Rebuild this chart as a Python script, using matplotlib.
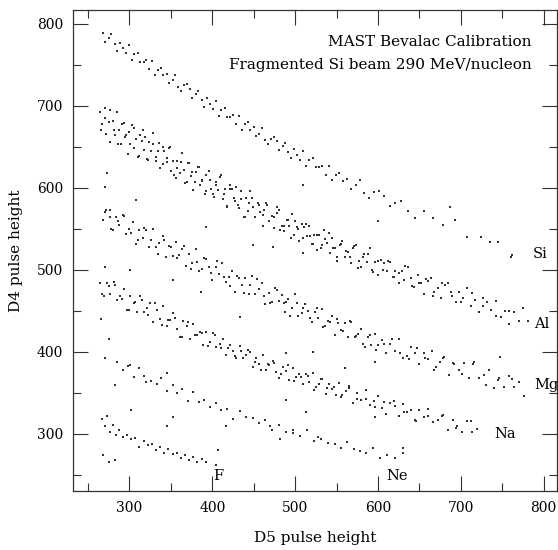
import matplotlib.pyplot as plt
from matplotlib.ticker import MultipleLocator

si_x = [268, 271, 275, 278, 282, 285, 289, 292, 296, 299, 303, 306, 310, 313, 317, 320, 324, 327,
        331, 334, 338, 341, 345, 348, 352, 355, 359, 362, 366, 369, 373, 376, 380, 383, 387, 390,
        394, 397, 401, 404, 408, 411, 415, 418, 422, 425, 429, 432, 436, 439, 443, 446, 450, 453,
        457, 460, 464, 467, 471, 474, 478, 481, 485, 488, 492, 495, 499, 502, 506, 509, 513, 517,
        521, 525, 529, 533, 537, 541, 545, 549, 553, 558, 563, 568, 573, 578, 583, 589, 595, 601,
        607, 614, 621, 628, 636, 645, 655, 666, 679, 693, 708, 725, 745, 762]
si_y = [789, 778, 783, 787, 775, 767, 777, 770, 764, 774, 756, 763, 765, 754, 753, 756, 745, 755,
        737, 744, 746, 737, 739, 728, 732, 738, 723, 718, 725, 727, 721, 710, 714, 718, 707, 699,
        709, 702, 696, 706, 688, 695, 697, 686, 686, 689, 678, 688, 671, 678, 680, 671, 674, 663,
        666, 673, 658, 654, 660, 662, 657, 646, 651, 655, 644, 636, 647, 640, 634, 645, 627, 634,
        636, 625, 625, 627, 616, 626, 609, 616, 618, 608, 611, 599, 603, 609, 594, 588, 595, 596,
        590, 578, 581, 584, 572, 563, 572, 563, 555, 561, 540, 540, 534, 518]

al_x = [265, 267, 270, 272, 275, 277, 280, 282, 285, 287, 290, 293, 295, 298, 300, 303, 305, 308,
        311, 313, 316, 318, 321, 324, 326, 329, 332, 334, 337, 340, 342, 345, 348, 350, 353, 356,
        358, 361, 364, 366, 369, 372, 374, 377, 380, 383, 385, 388, 391, 393, 396, 399, 402, 404,
        407, 410, 413, 415, 418, 421, 424, 427, 429, 432, 435, 438, 441, 443, 446, 449, 452, 455,
        458, 461, 463, 466, 469, 472, 475, 478, 481, 484, 487, 490, 493, 496, 499, 502, 505, 508,
        511, 514, 517, 520, 523, 526, 529, 532, 535, 538, 542, 545, 548, 551, 554, 557, 560, 564,
        567, 570, 573, 577, 580, 583, 587, 590, 593, 597, 600, 604, 607, 611, 614, 618, 621, 625,
        629, 632, 636, 640, 644, 648, 652, 656, 660, 664, 668, 672, 676, 681, 685, 689, 694, 698,
        703, 708, 712, 717, 722, 727, 732, 737, 742, 748, 753, 758, 764, 770, 775, 781]
al_y = [693, 678, 697, 666, 680, 656, 681, 664, 692, 670, 653, 679, 662, 641, 668, 676, 649, 659,
        639, 665, 671, 646, 635, 656, 645, 667, 633, 645, 624, 650, 645, 631, 648, 621, 633, 612,
        633, 618, 642, 622, 607, 630, 615, 597, 619, 625, 603, 610, 593, 616, 620, 598, 589, 607,
        597, 616, 586, 598, 577, 603, 598, 584, 601, 575, 586, 565, 587, 572, 596, 576, 564, 582,
        570, 554, 573, 579, 559, 566, 551, 569, 573, 554, 547, 561, 553, 568, 543, 552, 535, 556,
        552, 541, 554, 532, 542, 524, 542, 530, 549, 533, 520, 539, 526, 511, 530, 535, 516, 522,
        508, 527, 530, 511, 504, 519, 510, 526, 500, 509, 494, 512, 508, 498, 510, 491, 499, 484,
        498, 488, 504, 490, 479, 494, 484, 470, 486, 490, 473, 478, 466, 481, 484, 468, 461, 473,
        465, 478, 456, 463, 448, 466, 461, 451, 462, 442, 450, 434, 448, 437, 453, 438]
al2_x = [266, 271, 276, 281, 286, 291, 296, 301, 306, 310, 315, 319, 323, 328, 332, 336, 341, 345,
         349, 354, 358, 362, 367, 371, 375, 379, 384, 388, 392, 397, 401, 405, 409, 414, 418, 422,
         426, 431, 435, 439, 444, 448, 452, 456, 461, 465, 469, 474, 478, 482, 487, 491, 495, 500,
         504, 509, 513, 518, 522, 527, 531, 536, 541, 546, 551, 556, 561, 566, 571, 576, 582, 588,
         594, 600, 606, 612, 619, 626, 633, 641, 649, 658, 667, 677, 688, 700, 713, 727, 742, 758]
al2_y = [671, 685, 695, 671, 654, 678, 664, 654, 673, 637, 657, 662, 634, 653, 638, 655, 629, 636,
         650, 616, 624, 632, 606, 630, 619, 607, 625, 608, 596, 609, 592, 604, 613, 592, 578, 599,
         588, 579, 596, 565, 582, 587, 564, 579, 567, 581, 559, 564, 577, 548, 554, 561, 539, 560,
         550, 539, 556, 541, 531, 543, 527, 538, 545, 527, 515, 532, 523, 515, 529, 502, 516, 519,
         497, 511, 500, 511, 491, 496, 505, 480, 484, 489, 468, 484, 473, 461, 472, 456, 444, 450]

mg_x = [268, 272, 276, 280, 284, 288, 292, 296, 300, 304, 308, 312, 316, 320, 324, 328, 332, 336,
        340, 344, 348, 352, 356, 360, 364, 368, 372, 376, 380, 384, 388, 392, 396, 400, 404, 408,
        412, 416, 420, 424, 428, 432, 436, 440, 444, 448, 452, 456, 460, 464, 468, 472, 476, 480,
        484, 488, 492, 496, 500, 504, 508, 512, 516, 520, 524, 528, 532, 536, 540, 544, 548, 552,
        556, 560, 564, 568, 572, 576, 580, 584, 588, 592, 596, 600, 605, 610, 615, 620, 625, 630,
        635, 640, 645, 650, 655, 660, 665, 670, 675, 680, 686, 692, 698, 704, 710, 716, 722, 728,
        734, 740, 746, 752, 758, 764, 770, 776]
mg_y = [561, 573, 564, 548, 564, 555, 567, 544, 550, 558, 532, 548, 539, 548, 528, 550, 528, 533,
        541, 515, 529, 517, 534, 518, 525, 505, 519, 508, 525, 499, 501, 513, 504, 488, 504, 495,
        508, 485, 491, 499, 473, 490, 481, 490, 470, 492, 471, 476, 484, 458, 472, 461, 478, 462,
        469, 449, 464, 453, 470, 444, 447, 458, 450, 436, 449, 441, 452, 432, 437, 444, 421, 435,
        427, 435, 418, 436, 418, 422, 428, 406, 418, 408, 422, 408, 414, 398, 410, 401, 415, 393,
        395, 406, 398, 385, 398, 391, 401, 382, 387, 394, 372, 385, 378, 386, 368, 387, 368, 372,
        378, 356, 368, 357, 371, 357, 363, 346]
mg2_x = [270, 278, 286, 294, 302, 310, 318, 326, 334, 342, 350, 358, 366, 374, 382, 390, 398, 406,
         414, 422, 430, 438, 446, 454, 462, 470, 478, 486, 494, 502, 510, 518, 526, 534, 542, 550,
         558, 566, 574, 582, 590, 598, 607, 617, 627, 637, 647, 657, 668, 679, 690, 702, 715, 730,
         745, 762]
mg2_y = [571, 550, 559, 566, 545, 536, 551, 536, 519, 536, 528, 514, 529, 501, 509, 514, 496, 511,
         491, 480, 493, 472, 481, 489, 468, 460, 475, 460, 444, 460, 453, 441, 453, 430, 436, 440,
         425, 437, 419, 410, 420, 402, 410, 416, 398, 391, 404, 392, 378, 392, 386, 373, 385, 360,
         365, 367]

na_x = [265, 269, 273, 277, 281, 285, 289, 293, 297, 301, 305, 309, 313, 317, 321, 325, 329, 333,
        337, 341, 345, 349, 353, 357, 361, 365, 369, 373, 377, 381, 385, 389, 393, 397, 401, 405,
        409, 413, 417, 421, 425, 429, 433, 437, 441, 445, 449, 453, 457, 461, 465, 469, 473, 477,
        481, 485, 489, 493, 497, 501, 505, 509, 513, 517, 521, 525, 529, 533, 537, 541, 545, 549,
        553, 557, 561, 565, 570, 575, 580, 585, 590, 595, 600, 605, 610, 615, 620, 625, 630, 635,
        640, 645, 650, 655, 660, 666, 672, 678, 684, 690, 696, 702, 708, 714, 720]
na_y = [484, 468, 484, 471, 485, 463, 468, 476, 451, 468, 459, 449, 468, 449, 454, 459, 436, 451,
        440, 456, 432, 439, 447, 428, 418, 437, 431, 415, 434, 420, 424, 408, 424, 412, 423, 406,
        409, 415, 396, 408, 401, 393, 407, 393, 396, 400, 382, 393, 385, 396, 378, 384, 389, 375,
        368, 382, 377, 366, 380, 369, 373, 361, 373, 363, 374, 357, 361, 367, 348, 361, 354, 347,
        362, 347, 352, 356, 338, 350, 341, 353, 335, 340, 346, 332, 324, 338, 334, 322, 336, 326,
        329, 317, 329, 320, 330, 314, 317, 323, 304, 317, 310, 302, 316, 302, 306]
na2_x = [267, 275, 283, 291, 299, 307, 315, 323, 331, 339, 347, 355, 363, 371, 379, 387, 395, 403,
         411, 419, 427, 435, 443, 451, 459, 467, 475, 483, 491, 499, 507, 515, 523, 531, 539, 547,
         556, 565, 575, 585, 596, 607, 619, 632, 646, 661, 677, 694, 712]
na2_y = [471, 480, 482, 464, 451, 461, 463, 445, 460, 433, 439, 441, 418, 436, 421, 423, 407, 421,
         405, 405, 395, 401, 402, 388, 378, 385, 386, 373, 384, 364, 369, 370, 353, 367, 356, 357,
         345, 358, 342, 343, 333, 339, 340, 326, 315, 322, 322, 307, 316]

ne_x = [285, 292, 298, 305, 312, 318, 326, 333, 338, 345, 352, 358, 364, 371, 377, 384, 390, 397,
        404, 410, 418, 425, 433, 441, 449, 456, 464, 472, 480, 489, 497, 506, 514, 523, 531, 540,
        548, 556, 563, 571, 578, 586, 594, 602, 611, 620, 630]
ne_y = [388, 378, 383, 369, 380, 371, 364, 361, 368, 352, 359, 350, 355, 340, 351, 339, 341, 333,
        338, 329, 330, 318, 328, 320, 319, 313, 317, 305, 311, 302, 301, 297, 304, 291, 293, 289,
        288, 283, 290, 281, 279, 276, 283, 271, 274, 270, 277]

f_x = [267, 270, 273, 276, 280, 284, 288, 292, 297, 302, 307, 312, 317, 322, 327, 332, 337, 342,
       347, 352, 357, 362, 367, 372, 377, 382, 387, 392, 268, 275, 283, 405]
f_y = [318, 309, 322, 302, 311, 299, 305, 296, 298, 293, 295, 284, 291, 286, 287, 280, 284, 277,
       281, 275, 277, 271, 274, 268, 272, 265, 269, 266, 274, 266, 268, 262]

# stray events between the bands
bg_x = [273, 270, 276, 308, 393, 449, 473, 510, 510, 271, 301, 353, 386, 434, 489, 275, 271, 301,
        345, 320, 283, 302, 353, 345, 407, 417, 489, 513, 470, 498, 482, 489, 596, 747, 630, 596,
        528, 735, 761, 687, 522, 266, 600, 560]
bg_y = [618, 601, 573, 585, 552, 530, 528, 604, 521, 504, 500, 488, 473, 443, 461, 415, 393, 384,
        374, 363, 360, 329, 321, 309, 280, 309, 341, 326, 309, 305, 293, 399, 387, 394, 283, 321,
        296, 534, 515, 577, 400, 440, 560, 380]

labels = ['Si', 'Al', 'Mg', 'Na', 'Ne', 'F']
label_x = [787, 789, 789, 741, 610, 401]
label_y = [519, 434, 359, 300, 249, 249]

plt.rcParams['font.family'] = 'DejaVu Serif'
plt.rcParams['font.size'] = 10

fig = plt.figure(figsize=(5.58, 5.5), dpi=100)
ax = fig.add_axes([0.131, 0.107, 0.867, 0.875])

bands = [(si_x, si_y), (al_x, al_y), (al2_x, al2_y), (mg_x, mg_y), (mg2_x, mg2_y),
         (na_x, na_y), (na2_x, na2_y), (ne_x, ne_y), (f_x, f_y), (bg_x, bg_y)]
for xs, ys in bands:
    ax.scatter(xs, ys, s=1.1, c='0.2', marker='s', linewidths=0)

for lab, lx, ly in zip(labels, label_x, label_y):
    ax.text(lx, ly, lab, ha='left', va='center', fontsize=10.5)

ax.text(0.948, 0.933, 'MAST Bevalac Calibration', transform=ax.transAxes,
        ha='right', va='center', fontsize=11)
ax.text(0.948, 0.886, 'Fragmented Si beam 290 MeV/nucleon', transform=ax.transAxes,
        ha='right', va='center', fontsize=11)

ax.set_xlim(232, 816)
ax.set_ylim(230, 817)
ax.xaxis.set_major_locator(MultipleLocator(100))
ax.xaxis.set_minor_locator(MultipleLocator(50))
ax.yaxis.set_major_locator(MultipleLocator(100))
ax.yaxis.set_minor_locator(MultipleLocator(50))
ax.tick_params(which='both', direction='in', top=True, right=True, color='0.2', width=0.8)
ax.tick_params(which='major', length=11, pad=7)
ax.tick_params(which='minor', length=5.5)
for sp in ax.spines.values():
    sp.set_color('0.2')
    sp.set_linewidth(0.9)

ax.set_xlabel('D5 pulse height', fontsize=11)
ax.set_ylabel('D4 pulse height', fontsize=11)
ax.xaxis.set_label_coords(0.5, -0.083)
ax.yaxis.set_label_coords(-0.104, 0.5)

fig.savefig('out.png', dpi=100)
